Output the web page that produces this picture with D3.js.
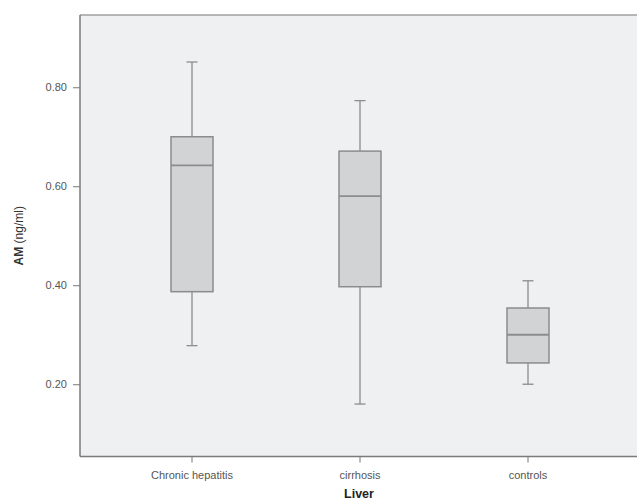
<!DOCTYPE html>
<html>
<head>
<meta charset="utf-8">
<script src="https://cdn.jsdelivr.net/npm/d3@7"></script>
<style>
  body { margin: 0; background: #fff; }
  svg { display: block; font-family: "Liberation Sans", Arial, sans-serif; }
</style>
</head>
<body>
<svg id="chart" width="637" height="502"></svg>
<script>
(function(){

const WIDTH = 637, HEIGHT = 502;

// groups and their box stats
const categories = ['Chronic hepatitis', 'cirrhosis', 'controls'];
const whiskerLow  = [0.278, 0.160, 0.200];
const q1          = [0.387, 0.397, 0.243];
const median      = [0.642, 0.580, 0.300];
const q3          = [0.700, 0.671, 0.354];
const whiskerHigh = [0.851, 0.773, 0.409];
const yTicks = [0.20, 0.40, 0.60, 0.80];

const plot = {left: 80, top: 15, right: 637, bottom: 456.5};

const svg = d3.select('#chart');

const x = d3.scaleBand()
  .domain(categories)
  .range([108, 612]);

const y = d3.scaleLinear()
  .domain([0.054, 0.946])
  .range([plot.bottom, plot.top]);

const boxes = categories.map((c, i) => ({
  name: c, lo: whiskerLow[i], q1: q1[i], med: median[i], q3: q3[i], hi: whiskerHigh[i]
}));

// plot background
svg.append('rect')
  .attr('x', plot.left).attr('y', plot.top)
  .attr('width', plot.right - plot.left).attr('height', plot.bottom - plot.top)
  .attr('fill', '#eff0f2');

// top frame line
svg.append('line')
  .attr('x1', plot.left).attr('x2', plot.right)
  .attr('y1', plot.top).attr('y2', plot.top)
  .attr('stroke', '#a0a0a0').attr('stroke-width', 1.5);

// y axis
const yAxis = svg.append('g')
  .attr('transform', `translate(${plot.left},0)`)
  .call(d3.axisLeft(y).tickValues(yTicks).tickFormat(d3.format('.2f')).tickSize(7).tickPadding(6));
yAxis.select('.domain').remove();
yAxis.selectAll('line').attr('stroke', '#777');
yAxis.selectAll('text').attr('fill', '#555').style('font-size', '11px');
svg.append('line')
  .attr('x1', plot.left).attr('x2', plot.left)
  .attr('y1', plot.top).attr('y2', plot.bottom)
  .attr('stroke', '#7a7a7a').attr('stroke-width', 1.5);

// x axis
const xAxis = svg.append('g')
  .attr('transform', `translate(0,${plot.bottom})`)
  .call(d3.axisBottom(x).tickSize(6).tickPadding(9));
xAxis.select('.domain').remove();
xAxis.selectAll('line').attr('stroke', '#777');
xAxis.selectAll('text').attr('fill', '#555').style('font-size', '11px');
svg.append('line')
  .attr('x1', plot.left).attr('x2', plot.right)
  .attr('y1', plot.bottom).attr('y2', plot.bottom)
  .attr('stroke', '#7a7a7a').attr('stroke-width', 1.5);

// boxes
const boxW = 42, capW = 11;
const g = svg.append('g');
const stroke = '#8c8c8c';

const bx = g.selectAll('g.box').data(boxes).join('g')
  .attr('class', 'box')
  .attr('transform', d => `translate(${x(d.name) + x.bandwidth() / 2},0)`);

bx.append('line')
  .attr('x1', 0).attr('x2', 0)
  .attr('y1', d => y(d.hi)).attr('y2', d => y(d.q3))
  .attr('stroke', stroke).attr('stroke-width', 1.3);
bx.append('line')
  .attr('x1', 0).attr('x2', 0)
  .attr('y1', d => y(d.q1)).attr('y2', d => y(d.lo))
  .attr('stroke', stroke).attr('stroke-width', 1.3);
bx.append('line')
  .attr('x1', -capW / 2).attr('x2', capW / 2)
  .attr('y1', d => y(d.hi)).attr('y2', d => y(d.hi))
  .attr('stroke', stroke).attr('stroke-width', 1.3);
bx.append('line')
  .attr('x1', -capW / 2).attr('x2', capW / 2)
  .attr('y1', d => y(d.lo)).attr('y2', d => y(d.lo))
  .attr('stroke', stroke).attr('stroke-width', 1.3);
bx.append('rect')
  .attr('x', -boxW / 2).attr('width', boxW)
  .attr('y', d => y(d.q3)).attr('height', d => y(d.q1) - y(d.q3))
  .attr('fill', '#d2d3d5').attr('stroke', stroke).attr('stroke-width', 1.5);
bx.append('line')
  .attr('x1', -boxW / 2).attr('x2', boxW / 2)
  .attr('y1', d => y(d.med)).attr('y2', d => y(d.med))
  .attr('stroke', stroke).attr('stroke-width', 1.8);

// axis titles
svg.append('text')
  .attr('transform', `translate(23,${(plot.top + plot.bottom) / 2}) rotate(-90)`)
  .attr('text-anchor', 'middle')
  .attr('fill', '#333')
  .style('font-size', '12px')
  .html('<tspan font-weight="bold">AM</tspan> (ng/ml)');

svg.append('text')
  .attr('x', 359).attr('y', 498)
  .attr('text-anchor', 'middle')
  .attr('fill', '#222')
  .style('font-size', '12.5px').style('font-weight', 'bold')
  .text('Liver');

})();
</script>
</body>
</html>
